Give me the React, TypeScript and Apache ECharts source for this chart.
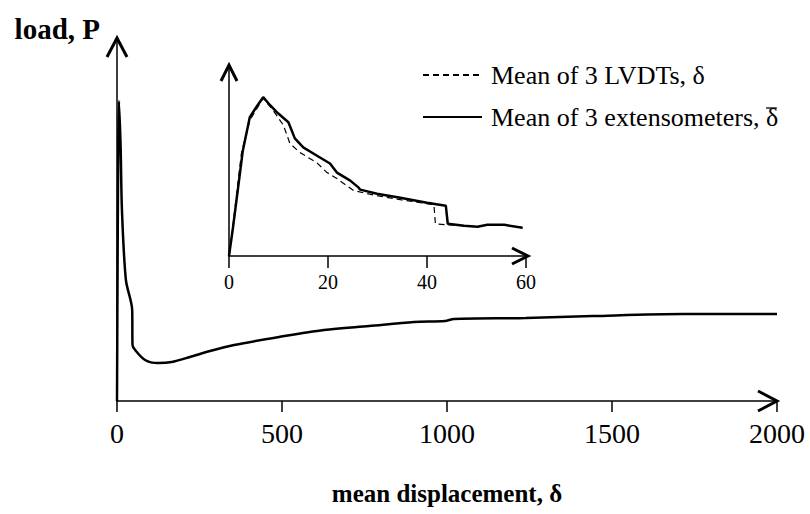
import React, { useEffect, useRef } from "react";
import * as echarts from "echarts";

// Main plot: mean displacement vs load (arbitrary load units)
const mainDisp = [0, 2, 4, 6, 11, 15, 27, 46, 47, 55, 85, 124, 166, 221, 282, 355, 491, 627, 764, 900, 994, 1021, 1239, 1442, 1715, 2000];
const mainLoad = [0, 150, 260, 300, 254, 191, 121, 91, 56, 51, 41, 38, 39, 44, 50, 56, 64, 71, 75, 79, 80, 82, 83, 85, 87, 87];

// Inset: extensometers (solid)
const extDisp = [0, 0.8, 2.8, 4.2, 5.5, 6.9, 8.3, 9.9, 12.0, 13.3, 15.0, 17.7, 20.4, 21.8, 24.5, 26.2, 26.5, 29.9, 34.6, 40.0, 43.8, 44.2, 47.5, 50.2, 52.2, 55.6, 59.3];
const extLoad = [0, 28, 105, 138, 148, 158, 150, 142, 133, 117, 108, 100, 92, 83, 75, 68, 66, 62, 58, 53, 50, 32, 30, 29, 31, 31, 28];

// Inset: LVDTs (dashed)
const lvdtDisp = [0, 0.5, 2.5, 4.2, 6.9, 8.9, 11.0, 12.3, 14.3, 17.7, 19.8, 21.8, 25.2, 29.9, 34.6, 41.4, 41.7, 44.1, 47.5, 50.2, 52.2, 55.6, 59.3];
const lvdtLoad = [0, 18, 102, 135, 157, 145, 130, 112, 103, 93, 83, 77, 65, 60, 56, 51, 32, 31, 30, 29, 31, 31, 28];

const mainTicks = [0, 500, 1000, 1500, 2000];
const insetTicks = [0, 20, 40, 60];

const LVDT_NAME = "Mean of 3 LVDTs, δ";
const EXT_NAME = "Mean of 3 extensometers, δ\u0304";
const EXT_PREFIX = "Mean of 3 extensometers, ";
const EXT_SYMBOL = "δ";

const FONT = "Liberation Serif, Times New Roman, serif";

export default function App() {
  const ref = useRef<HTMLDivElement>(null);
  useEffect(() => {
    if (!ref.current) return;
    const chart = echarts.init(ref.current, null, { renderer: "svg" });
    const zip = (a: number[], b: number[]) => a.map((v, i) => [v, b[i]]);
    const axisLine = { show: true, lineStyle: { color: "#000", width: 1.5 } };
    const legendLeft = 422;
    const legendTop = 55;
    const legendItemW = 59;
    const legendPadL = 4;
    const legendFont = 26;
    const option: any = {
      animation: false,
      backgroundColor: "#fff",
      textStyle: { fontFamily: FONT, color: "#000" },
      legend: {
        data: [LVDT_NAME, EXT_NAME],
        orient: "vertical",
        left: legendLeft,
        top: legendTop,
        padding: 0,
        itemWidth: legendItemW,
        itemHeight: 14,
        itemGap: 2,
        itemStyle: { opacity: 0 },
        selectedMode: false,
        formatter: (name: string) => (name === EXT_NAME ? EXT_PREFIX + EXT_SYMBOL : name),
        textStyle: {
          fontFamily: FONT,
          fontSize: legendFont,
          color: "#000",
          lineHeight: 28,
          padding: [12, 0, 0, legendPadL],
        },
      },
      grid: [
        { left: 117, top: 38, right: 33, bottom: 113 },
        { left: 229, top: 65, width: 297, height: 191 },
      ],
      xAxis: [
        {
          type: "value",
          gridIndex: 0,
          min: 0,
          max: 2000,
          interval: 500,
          axisLine,
          axisTick: { show: true, length: 11, lineStyle: { color: "#000", width: 1.5 } },
          axisLabel: {
            fontFamily: FONT,
            fontSize: 28,
            color: "#000",
            margin: 18,
            formatter: (v: number) => (mainTicks.includes(v) ? String(v) : ""),
          },
          splitLine: { show: false },
          name: "mean displacement, δ",
          nameLocation: "middle",
          nameGap: 80,
          nameTextStyle: { fontFamily: FONT, fontSize: 25, fontWeight: "bold", color: "#000" },
        },
        {
          type: "value",
          gridIndex: 1,
          min: 0,
          max: 60,
          interval: 20,
          axisLine,
          axisTick: { show: true, length: 12, lineStyle: { color: "#000", width: 1.5 } },
          axisLabel: {
            fontFamily: FONT,
            fontSize: 20,
            color: "#000",
            margin: 16,
            formatter: (v: number) => (insetTicks.includes(v) ? String(v) : ""),
          },
          splitLine: { show: false },
        },
      ],
      yAxis: [
        {
          type: "value",
          gridIndex: 0,
          min: 0,
          max: 363,
          axisLine,
          axisTick: { show: false },
          axisLabel: { show: false },
          splitLine: { show: false },
          name: "load, P",
          nameLocation: "end",
          nameGap: 9,
          nameTextStyle: {
            fontFamily: FONT,
            fontSize: 29,
            fontWeight: "bold",
            color: "#000",
            align: "right",
            verticalAlign: "middle",
            padding: [0, 17, 0, 0],
          },
        },
        {
          type: "value",
          gridIndex: 1,
          min: 0,
          max: 190,
          axisLine,
          axisTick: { show: false },
          axisLabel: { show: false },
          splitLine: { show: false },
        },
      ],
      series: [
        {
          name: EXT_NAME,
          type: "line",
          xAxisIndex: 0,
          yAxisIndex: 0,
          data: zip(mainDisp, mainLoad),
          symbol: "none",
          smooth: 0.3,
          lineStyle: { color: "#000", width: 2.5 },
          itemStyle: { color: "#000" },
        },
        {
          name: LVDT_NAME,
          type: "line",
          xAxisIndex: 1,
          yAxisIndex: 1,
          data: zip(lvdtDisp, lvdtLoad),
          symbol: "none",
          lineStyle: { color: "#000", width: 1.2, type: [6, 4] },
          itemStyle: { color: "#000" },
        },
        {
          name: EXT_NAME,
          type: "line",
          xAxisIndex: 1,
          yAxisIndex: 1,
          data: zip(extDisp, extLoad),
          symbol: "none",
          lineStyle: { color: "#000", width: 2.5 },
          itemStyle: { color: "#000" },
        },
      ],
    };
    chart.setOption(option);

    const up = (p: number[], w: number, h: number) => ({
      type: "polyline",
      shape: { points: [[p[0] - w, p[1] + h], [p[0], p[1]], [p[0] + w, p[1] + h]] },
      style: { stroke: "#000", lineWidth: 3, fill: null },
      z: 100,
    });
    const right = (p: number[], w: number, h: number) => ({
      type: "polyline",
      shape: { points: [[p[0] - h, p[1] - w], [p[0], p[1]], [p[0] - h, p[1] + w]] },
      style: { stroke: "#000", lineWidth: 3, fill: null },
      z: 100,
    });
    const mTop = chart.convertToPixel({ xAxisIndex: 0, yAxisIndex: 0 }, [0, 363]) as number[];
    const mRight = chart.convertToPixel({ xAxisIndex: 0, yAxisIndex: 0 }, [2000, 0]) as number[];
    const iTop = chart.convertToPixel({ xAxisIndex: 1, yAxisIndex: 1 }, [0, 190]) as number[];
    const iRight = chart.convertToPixel({ xAxisIndex: 1, yAxisIndex: 1 }, [60, 0]) as number[];

    // overline over the delta of the second legend entry
    const graphics: any[] = [
      up(mTop, 10, 19),
      right(mRight, 10, 19),
      up(iTop, 8, 16),
      right([iRight[0] + 2, iRight[1]], 8, 16),
    ];
    const ctx = document.createElement("canvas").getContext("2d");
    if (ctx) {
      ctx.font = `${legendFont}px "Liberation Serif"`;
      const pre = ctx.measureText(EXT_PREFIX).width;
      const dw = ctx.measureText(EXT_SYMBOL).width;
      const x0 = legendLeft + legendItemW + 5 + legendPadL + pre;
      const rowTop = legendTop + 40 + 2; // second row top
      const textCenter = rowTop + 20 + 6;
      const y = textCenter - 15;
      graphics.push({
        type: "line",
        shape: { x1: x0 + 1, y1: y, x2: x0 + dw - 0.5, y2: y },
        style: { stroke: "#000", lineWidth: 1.3 },
        z: 100,
      });
    }
    chart.setOption({ graphic: graphics });
    return () => chart.dispose();
  }, []);
  return (
    <div
      ref={ref}
      style={{ position: "fixed", left: 0, top: 0, width: 810, height: 514, background: "#fff" }}
    />
  );
}
